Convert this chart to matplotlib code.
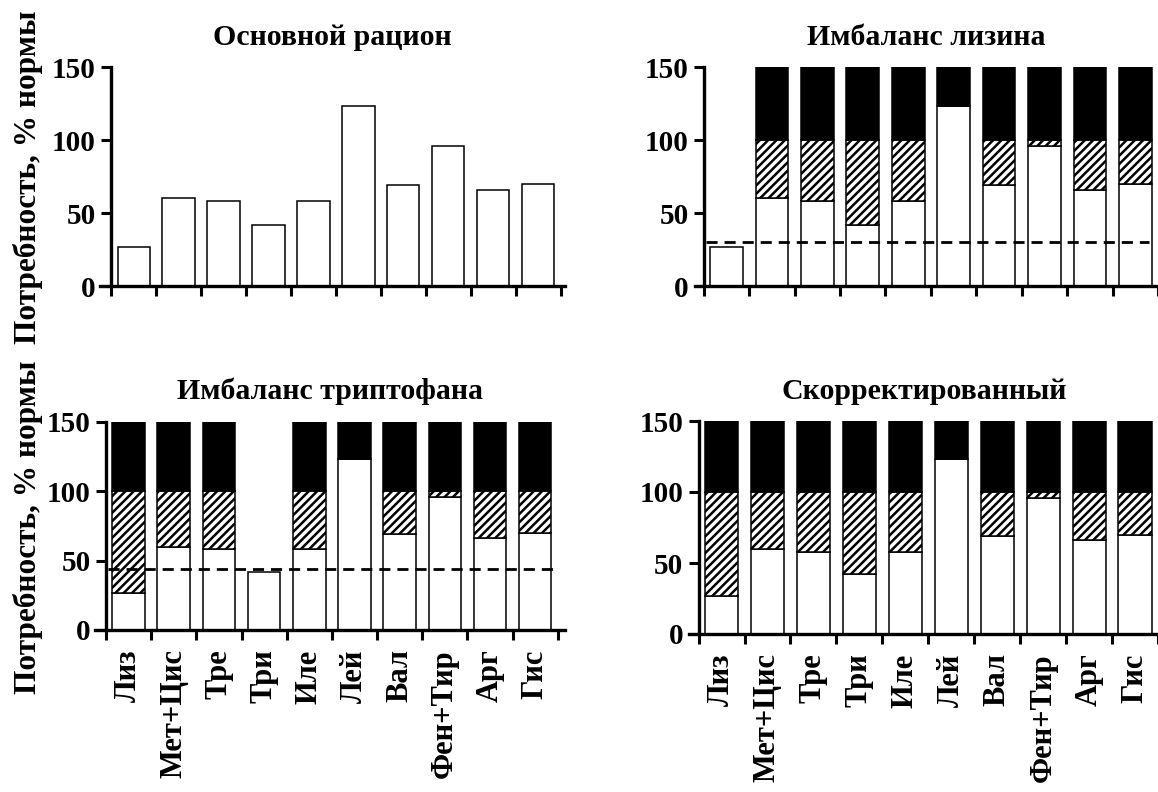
import matplotlib

matplotlib.use("Agg")
import matplotlib.pyplot as plt
import numpy as np

# -----------------------------
# Data
# -----------------------------
amino_acids = ["Лиз", "Мет+Цис", "Тре", "Три", "Иле", "Лей", "Вал", "Фен+Тир", "Арг", "Гис"]
basal = [27, 60, 58, 42, 58, 123, 69, 96, 66, 70]  # % of norm in basal ration

norm_level = 100  # requirement (100 %)
excess_level = 150  # top of black "excess" block

# which amino acids were supplemented in each variant
lys_imbalance_added = [False, True, True, True, True, True, True, True, True, True]
trp_imbalance_added = [True, True, True, False, True, True, True, True, True, True]
corrected_added = [True] * 10

lys_limit = 30  # dashed line, lysine imbalance
trp_limit = 44  # dashed line, tryptophan imbalance

panel_titles = ["Основной рацион", "Имбаланс лизина", "Имбаланс триптофана", "Скорректированный"]
y_ticks = [0, 50, 100, 150]
y_label = "Потребность, % нормы"

# -----------------------------
# Style
# -----------------------------
plt.rcParams["font.family"] = ["Liberation Serif", "DejaVu Serif"]
plt.rcParams["font.weight"] = "bold"
plt.rcParams["hatch.linewidth"] = 1.8

W, H = 1158, 792
BAR_W = 0.72
EDGE_LW = 1.1


def px_axes(fig, left, right, top, bottom):
    return fig.add_axes([left / W, 1 - bottom / H, (right - left) / W, (bottom - top) / H])


def draw_panel(ax, title, added=None, limit=None, xlim=(-0.75, 9.6), show_labels=False, limit_end=None):
    x = np.arange(len(amino_acids))
    base = np.array(basal, dtype=float)

    ax.bar(x, base, width=BAR_W, color="white", edgecolor="black", linewidth=EDGE_LW, zorder=2)

    if added is not None:
        added = np.array(added)
        hatch_h = np.where(added, np.clip(norm_level - base, 0, None), 0)
        black_bottom = np.maximum(base, norm_level)
        black_h = np.where(added, excess_level - black_bottom, 0)
        ax.bar(x[added], hatch_h[added], bottom=base[added], width=BAR_W, color="white",
               edgecolor="black", hatch="////", linewidth=EDGE_LW, zorder=2)
        ax.bar(x[added], black_h[added], bottom=black_bottom[added], width=BAR_W,
               color="black", edgecolor="black", linewidth=EDGE_LW, zorder=2)

    if limit is not None:
        x_end = xlim[1] if limit_end is None else limit_end
        ax.hlines(limit, -0.45, x_end, colors="black", linestyles=(0, (4, 2.5)), linewidth=2.0, zorder=3)

    ax.set_xlim(*xlim)
    ax.set_ylim(0, 150)

    for side in ["top", "right"]:
        ax.spines[side].set_visible(False)
    ax.spines["left"].set_position(("data", -0.5))
    ax.spines["left"].set_linewidth(2.4)
    ax.spines["bottom"].set_linewidth(2.4)

    ax.set_yticks(y_ticks)
    ax.tick_params(axis="y", direction="out", length=7, width=2.2, pad=4, labelsize=21)

    ax.set_xticks(np.arange(-0.5, len(amino_acids)))
    ax.set_xticklabels([])
    ax.tick_params(axis="x", which="major", direction="out", length=7.5, width=2.2)
    ax.set_xticks(x, minor=True)
    if show_labels:
        ax.set_xticklabels(amino_acids, minor=True, rotation=90, va="top", ha="center", fontsize=22)
    ax.tick_params(axis="x", which="minor", length=0, pad=14)

    ax.set_title(title, fontsize=21.5, fontweight="bold", pad=16)


fig = plt.figure(figsize=(W / 100, H / 100), dpi=100)

ax_tl = px_axes(fig, 100, 565, 67, 286)
ax_tr = px_axes(fig, 694.7, 1158, 67, 286)
ax_bl = px_axes(fig, 94.7, 564.5, 421.7, 630)
ax_br = px_axes(fig, 689.4, 1158, 421, 634)

draw_panel(ax_tl, panel_titles[0])
draw_panel(ax_tr, panel_titles[1], lys_imbalance_added, lys_limit, xlim=(-0.7, 9.3))
draw_panel(ax_bl, panel_titles[2], trp_imbalance_added, trp_limit, xlim=(-0.75, 9.65),
           show_labels=True, limit_end=9.4)
draw_panel(ax_br, panel_titles[3], corrected_added, None, xlim=(-0.7, 9.4), show_labels=True)

fig.text(28 / W, 1 - 177 / H, y_label, rotation=90, ha="center", va="center", fontsize=22.5, fontweight="bold")
fig.text(28 / W, 1 - 527 / H, y_label, rotation=90, ha="center", va="center", fontsize=22.5, fontweight="bold")

fig.savefig("out.png", dpi=100)
